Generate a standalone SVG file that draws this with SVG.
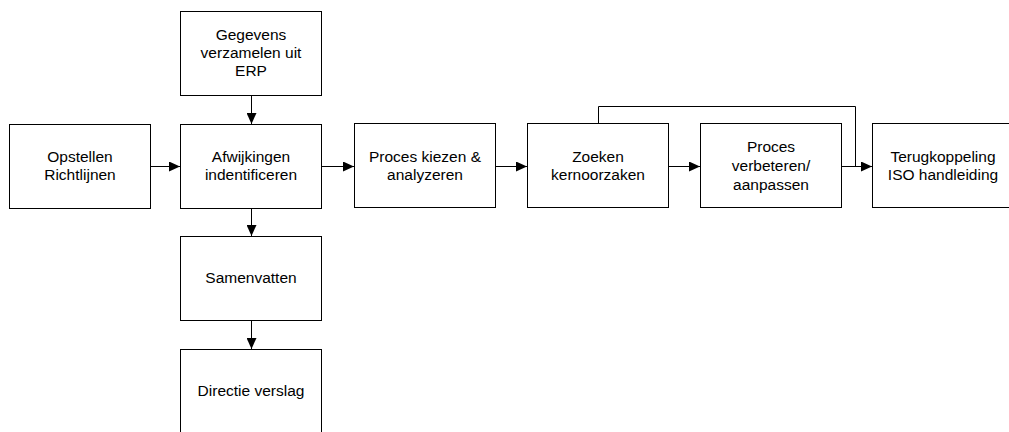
<svg xmlns="http://www.w3.org/2000/svg" width="1009" height="432" viewBox="0 0 1009 432">
  <style>
    .box { fill: #ffffff; stroke: #000000; stroke-width: 1; }
    .lbl { font-family: "Liberation Sans", Arial, sans-serif; font-size: 15.5px; fill: #000000; text-anchor: middle; }
    .edge { fill: none; stroke: #000000; stroke-width: 1; }
  </style>
  <defs>
    <marker id="arrow" markerUnits="userSpaceOnUse" markerWidth="11" markerHeight="10" refX="11" refY="5" orient="auto">
      <path d="M0,0 L11,5 L0,10 Z" fill="#000000"/>
    </marker>
  </defs>
  <rect width="1009" height="432" fill="#ffffff"/>

  <!-- process steps -->
  <g id="gegevens">
    <rect class="box" x="180.5" y="11.5" width="141" height="84"/>
    <text class="lbl" x="251" y="40">Gegevens</text>
    <text class="lbl" x="251" y="58">verzamelen uit</text>
    <text class="lbl" x="251" y="76">ERP</text>
  </g>
  <g id="opstellen">
    <rect class="box" x="9.5" y="124.5" width="141" height="84"/>
    <text class="lbl" x="80" y="162">Opstellen</text>
    <text class="lbl" x="80" y="180">Richtlijnen</text>
  </g>
  <g id="afwijkingen">
    <rect class="box" x="180.5" y="124.5" width="141" height="84"/>
    <text class="lbl" x="251" y="162">Afwijkingen</text>
    <text class="lbl" x="251" y="180">indentificeren</text>
  </g>
  <g id="proces-kiezen">
    <rect class="box" x="354.5" y="123.5" width="141" height="84"/>
    <text class="lbl" x="425" y="162">Proces kiezen &amp;</text>
    <text class="lbl" x="425" y="180">analyzeren</text>
  </g>
  <g id="zoeken">
    <rect class="box" x="527.5" y="123.5" width="141" height="84"/>
    <text class="lbl" x="598" y="162">Zoeken</text>
    <text class="lbl" x="598" y="180">kernoorzaken</text>
  </g>
  <g id="proces-verbeteren">
    <rect class="box" x="700.5" y="123.5" width="141" height="84"/>
    <text class="lbl" x="771" y="152">Proces</text>
    <text class="lbl" x="771" y="171">verbeteren/</text>
    <text class="lbl" x="771" y="190">aanpassen</text>
  </g>
  <g id="terugkoppeling">
    <rect class="box" x="872.5" y="123.5" width="141" height="84"/>
    <text class="lbl" x="943" y="162">Terugkoppeling</text>
    <text class="lbl" x="943" y="180">ISO handleiding</text>
  </g>
  <g id="samenvatten">
    <rect class="box" x="180.5" y="236.5" width="141" height="84"/>
    <text class="lbl" x="251" y="283">Samenvatten</text>
  </g>
  <g id="directie">
    <rect class="box" x="180.5" y="349.5" width="141" height="84"/>
    <text class="lbl" x="251" y="396">Directie verslag</text>
  </g>

  <!-- connectors -->
  <g id="connectors">
    <line class="edge" x1="251.5" y1="96" x2="251.5" y2="124" marker-end="url(#arrow)"/>
    <line class="edge" x1="151" y1="166.5" x2="180" y2="166.5" marker-end="url(#arrow)"/>
    <line class="edge" x1="322" y1="166.5" x2="354" y2="166.5" marker-end="url(#arrow)"/>
    <line class="edge" x1="496" y1="166.5" x2="527" y2="166.5" marker-end="url(#arrow)"/>
    <line class="edge" x1="669" y1="166.5" x2="700" y2="166.5" marker-end="url(#arrow)"/>
    <line class="edge" x1="842" y1="166.5" x2="872" y2="166.5" marker-end="url(#arrow)"/>
    <polyline class="edge" points="598.5,123 598.5,106.5 855.5,106.5 855.5,166.5"/>
    <line class="edge" x1="251.5" y1="209" x2="251.5" y2="236" marker-end="url(#arrow)"/>
    <line class="edge" x1="251.5" y1="321" x2="251.5" y2="349" marker-end="url(#arrow)"/>
  </g>
</svg>
